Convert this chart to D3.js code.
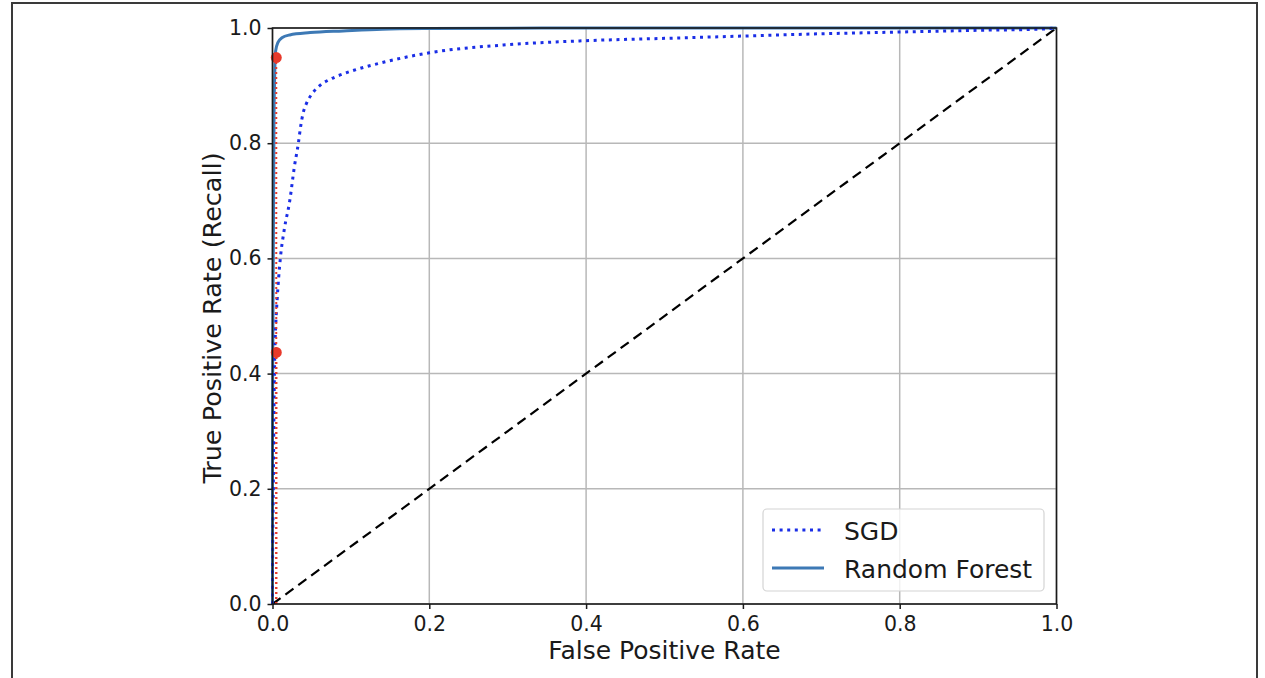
<!DOCTYPE html>
<html>
<head>
<meta charset="utf-8">
<script src="https://cdn.jsdelivr.net/npm/d3@7"></script>
<style>
  body { margin: 0; background: #fff; }
  text { font-family: "DejaVu Sans", sans-serif; fill: #1a1a1a; }
</style>
</head>
<body>
<script>
const w = 1265
const h = 678

// ROC curve points
const sgdFpr = [0, 0, 0.001, 0.002, 0.003, 0.004, 0.006, 0.01, 0.015, 0.022, 0.028, 0.033, 0.036, 0.039, 0.043, 0.05, 0.057, 0.064, 0.072, 0.08, 0.1, 0.14, 0.2, 0.3, 0.4, 0.5, 0.6, 0.7, 0.8, 0.9, 0.98, 1]
const sgdTpr = [0, 0.05, 0.2, 0.35, 0.44, 0.48, 0.53, 0.6, 0.65, 0.70, 0.76, 0.80, 0.83, 0.852, 0.868, 0.885, 0.896, 0.904, 0.91, 0.915, 0.925, 0.94, 0.957, 0.971, 0.978, 0.982, 0.986, 0.99, 0.993, 0.996, 0.998, 1]

const rfFpr = [0, 0, 0.001, 0.002, 0.003, 0.004, 0.007, 0.012, 0.022, 0.048, 0.09, 0.14, 0.2, 0.4, 1]
const rfTpr = [0, 0.3, 0.6, 0.85, 0.93, 0.96, 0.975, 0.983, 0.988, 0.992, 0.995, 0.998, 0.999, 1, 1]

const diagonal = [0, 1]

// threshold points (red markers)
const markFpr = [0.0048, 0.0048]
const markTpr = [0.4368, 0.9487]

const ticks = [0, 0.2, 0.4, 0.6, 0.8, 1.0]
const legendLabels = ['SGD', 'Random Forest']

const margin = {left: 272.5, top: 28, right: 1056.5, bottom: 604}

const x = d3.scaleLinear().domain([0, 1]).range([margin.left, margin.right])
const y = d3.scaleLinear().domain([0, 1]).range([margin.bottom, margin.top])

const svg = d3.select('body').append('svg')
    .attr('width', w)
    .attr('height', h)

// outer frame
svg.append('rect')
    .attr('x', 12).attr('y', 3)
    .attr('width', 1245).attr('height', 720)
    .attr('fill', 'none')
    .attr('stroke', '#3a3a3a')
    .attr('stroke-width', 2)

// grid
svg.append('g')
    .selectAll('line')
    .data(ticks)
    .enter()
    .append('line')
    .attr('x1', d => x(d)).attr('x2', d => x(d))
    .attr('y1', margin.top).attr('y2', margin.bottom)
    .attr('stroke', '#b8b8b8').attr('stroke-width', 1.5)

svg.append('g')
    .selectAll('line')
    .data(ticks)
    .enter()
    .append('line')
    .attr('y1', d => y(d)).attr('y2', d => y(d))
    .attr('x1', margin.left).attr('x2', margin.right)
    .attr('stroke', '#b8b8b8').attr('stroke-width', 1.5)

const line = d3.line()
    .x(d => x(d[0]))
    .y(d => y(d[1]))
    .curve(d3.curveMonotoneX)

// diagonal
svg.append('path')
    .datum(diagonal.map(d => [d, d]))
    .attr('d', line)
    .attr('fill', 'none')
    .attr('stroke', '#000')
    .attr('stroke-width', 2.2)
    .attr('stroke-dasharray', '10,6')

// random forest
svg.append('path')
    .datum(rfFpr.map((d, i) => [d, rfTpr[i]]))
    .attr('d', line)
    .attr('fill', 'none')
    .attr('stroke', '#3d79b5')
    .attr('stroke-width', 3)

// sgd
svg.append('path')
    .datum(sgdFpr.map((d, i) => [d, sgdTpr[i]]))
    .attr('d', line)
    .attr('fill', 'none')
    .attr('stroke', '#1a2ee6')
    .attr('stroke-width', 3)
    .attr('stroke-dasharray', '3,4.6')

// red dotted verticals + markers
markFpr.forEach((f, i) => {
    svg.append('line')
        .attr('x1', x(f)).attr('x2', x(f))
        .attr('y1', y(0)).attr('y2', y(markTpr[i]))
        .attr('stroke', '#e8392b')
        .attr('stroke-width', 2)
        .attr('stroke-dasharray', '2,3')
})

svg.selectAll('circle.mark')
    .data(markFpr.map((d, i) => [d, markTpr[i]]))
    .enter()
    .append('circle')
    .attr('class', 'mark')
    .attr('cx', d => x(d[0]))
    .attr('cy', d => y(d[1]))
    .attr('r', 5.5)
    .attr('fill', '#e8392b')

// axes
const fmt = d3.format('.1f')
const xAxis = svg.append('g')
    .attr('transform', `translate(0,${margin.bottom})`)
    .call(d3.axisBottom(x).tickValues(ticks).tickFormat(fmt).tickSize(5).tickPadding(7).tickSizeOuter(0))
const yAxis = svg.append('g')
    .attr('transform', `translate(${margin.left},0)`)
    .call(d3.axisLeft(y).tickValues(ticks).tickFormat(fmt).tickSize(5).tickPadding(6).tickSizeOuter(0))

;[xAxis, yAxis].forEach(a => {
    a.attr('font-size', null).attr('font-family', null)
    a.selectAll('text').style('font-size', '20.5px').attr('fill', '#1a1a1a')
    a.selectAll('line').attr('stroke', '#1a1a1a').attr('stroke-width', 1.5)
    a.select('.domain').remove()
})

// spines
svg.append('rect')
    .attr('x', margin.left).attr('y', margin.top)
    .attr('width', margin.right - margin.left)
    .attr('height', margin.bottom - margin.top)
    .attr('fill', 'none')
    .attr('stroke', '#1a1a1a')
    .attr('stroke-width', 1.6)

// axis labels
svg.append('text')
    .attr('x', (margin.left + margin.right) / 2)
    .attr('y', 659)
    .attr('text-anchor', 'middle')
    .style('font-size', '25px')
    .text('False Positive Rate')

svg.append('text')
    .attr('transform', `translate(221,${(margin.top + margin.bottom) / 2 + 2}) rotate(-90)`)
    .attr('text-anchor', 'middle')
    .style('font-size', '25.5px')
    .text('True Positive Rate (Recall)')

// legend
const legend = svg.append('g')
legend.append('rect')
    .attr('x', 763).attr('y', 509)
    .attr('width', 281).attr('height', 82)
    .attr('rx', 4)
    .attr('fill', 'rgba(255,255,255,0.8)')
    .attr('stroke', '#d4d4d4')
    .attr('stroke-width', 1.2)

const legendStyles = [
    {color: '#1a2ee6', dash: '3,4.6'},
    {color: '#3d79b5', dash: null}
]

legendLabels.forEach((lab, i) => {
    const ly = 530 + i * 38
    legend.append('line')
        .attr('x1', 772).attr('x2', 824)
        .attr('y1', ly).attr('y2', ly)
        .attr('stroke', legendStyles[i].color)
        .attr('stroke-width', 3)
        .attr('stroke-dasharray', legendStyles[i].dash)
    legend.append('text')
        .attr('x', 844)
        .attr('y', ly + 10)
        .style('font-size', '25px')
        .text(lab)
})
</script>
</body>
</html>
